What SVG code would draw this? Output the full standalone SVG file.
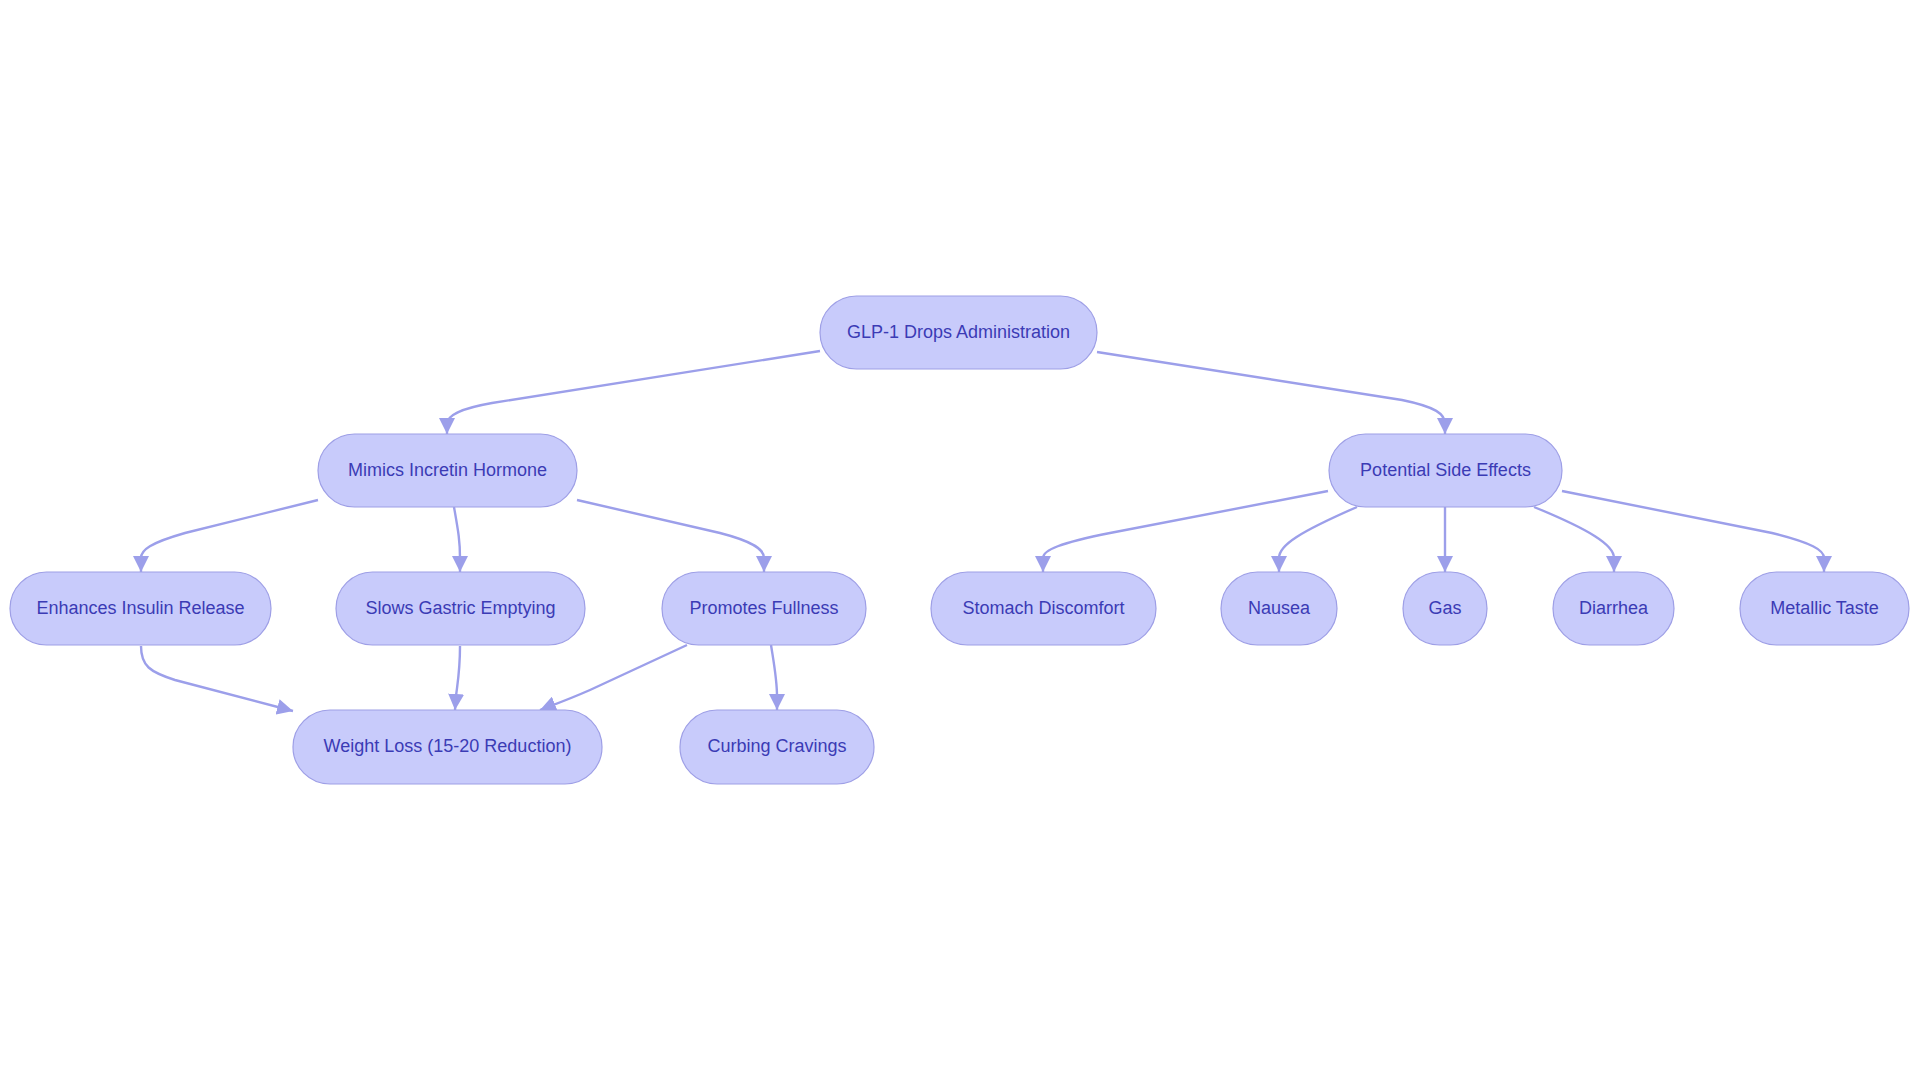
<svg xmlns="http://www.w3.org/2000/svg" width="1920" height="1083" viewBox="0 0 1920 1083">
<defs>
<marker id="arr" markerUnits="userSpaceOnUse" markerWidth="16" markerHeight="16" refX="16" refY="8" orient="auto">
<path d="M0,0 L16,8 L0,16 z" fill="#9c9fea"/>
</marker>
<style>
.node rect{fill:#c8cbfb;stroke:#9e9fe6;stroke-width:1.2}
.node text{font-family:"Liberation Sans",Arial,sans-serif;font-size:18px;fill:#3b3bb5;text-anchor:middle}
.edges path{fill:none;stroke:#9c9fea;stroke-width:2.4;marker-end:url(#arr)}
</style>
</defs>
<rect width="1920" height="1083" fill="#ffffff"/>
<g class="edges">
<path d="M820,351 L492,403 C458,409 447,416 447,424 L447,434"/>
<path d="M1097,352 L1402,400 C1436,407 1445,414 1445,424 L1445,434"/>
<path d="M318,500 L185,533 C150,543 141,550 141,558 L141,572"/>
<path d="M454,507 C458,530 460,540 460,558 L460,572"/>
<path d="M577,500 L720,533 C755,542 764,550 764,558 L764,572"/>
<path d="M141,646 C141,666 150,672 175,680 L293,711"/>
<path d="M460,646 C460,670 458,680 456,696 L455,710"/>
<path d="M687,645 L590,690 C565,701 550,706 540,710"/>
<path d="M771,645 C775,670 777,680 777,696 L777,710"/>
<path d="M1328,491 L1110,533 C1060,543 1043,550 1043,558 L1043,572"/>
<path d="M1357,507 C1300,532 1279,545 1279,558 L1279,572"/>
<path d="M1445,507 L1445,572"/>
<path d="M1534,507 C1590,530 1614,545 1614,558 L1614,572"/>
<path d="M1562,491 L1772,533 C1812,543 1824,550 1824,558 L1824,572"/>
</g>
<g id="glp" class="node"><rect x="820" y="296" width="277" height="73" rx="36.5"/><text x="958.5" y="337.5">GLP-1 Drops Administration</text></g>
<g id="mimics" class="node"><rect x="318" y="434" width="259" height="73" rx="36.5"/><text x="447.5" y="475.5">Mimics Incretin Hormone</text></g>
<g id="potential" class="node"><rect x="1329" y="434" width="233" height="73" rx="36.5"/><text x="1445.5" y="475.5">Potential Side Effects</text></g>
<g id="enhances" class="node"><rect x="10" y="572" width="261" height="73" rx="36.5"/><text x="140.5" y="613.5">Enhances Insulin Release</text></g>
<g id="slows" class="node"><rect x="336" y="572" width="249" height="73" rx="36.5"/><text x="460.5" y="613.5">Slows Gastric Emptying</text></g>
<g id="promotes" class="node"><rect x="662" y="572" width="204" height="73" rx="36.5"/><text x="764" y="613.5">Promotes Fullness</text></g>
<g id="stomach" class="node"><rect x="931" y="572" width="225" height="73" rx="36.5"/><text x="1043.5" y="613.5">Stomach Discomfort</text></g>
<g id="nausea" class="node"><rect x="1221" y="572" width="116" height="73" rx="36.5"/><text x="1279" y="613.5">Nausea</text></g>
<g id="gas" class="node"><rect x="1403" y="572" width="84" height="73" rx="36.5"/><text x="1445" y="613.5">Gas</text></g>
<g id="diarrhea" class="node"><rect x="1553" y="572" width="121" height="73" rx="36.5"/><text x="1613.5" y="613.5">Diarrhea</text></g>
<g id="metallic" class="node"><rect x="1740" y="572" width="169" height="73" rx="36.5"/><text x="1824.5" y="613.5">Metallic Taste</text></g>
<g id="weight" class="node"><rect x="293" y="710" width="309" height="74" rx="37"/><text x="447.5" y="752">Weight Loss (15-20 Reduction)</text></g>
<g id="curbing" class="node"><rect x="680" y="710" width="194" height="74" rx="37"/><text x="777" y="752">Curbing Cravings</text></g>
</svg>
